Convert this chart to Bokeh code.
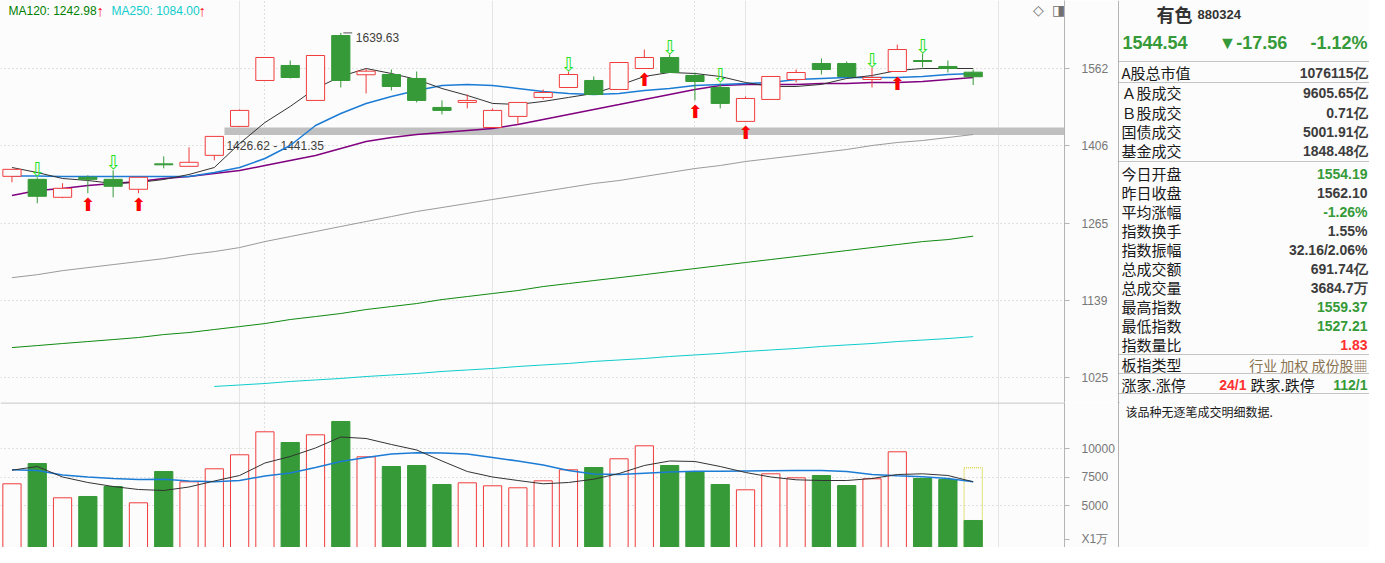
from bokeh.plotting import figure
from bokeh.models import Range1d, FixedTicker, PrintfTickFormatter, Grid, ColumnDataSource, Span
from bokeh.layouts import row, column
from bokeh.embed import file_html
from bokeh.resources import INLINE
from bokeh.core.properties import value

# ---------------- data ----------------
opens  = [1348.6, 1343.1, 1310.6, 1346.8, 1343.1, 1325.0, 1371.7, 1367.1, 1387.7, 1443.5,
          1536.7, 1568.4, 1495.5, 1633.7, 1548.7, 1549.3, 1540.9, 1481.3, 1491.4, 1441.4,
          1463.3, 1501.6, 1522.1, 1536.7, 1518.0, 1562.0, 1585.6, 1547.2, 1522.1, 1453.4,
          1497.5, 1538.8, 1572.7, 1572.7, 1538.8, 1555.6, 1579.1, 1566.3, 1554.19]
highs  = [1362.0, 1346.8, 1335.9, 1350.5, 1359.7, 1346.8, 1385.8, 1402.9, 1424.0, 1477.3,
          1585.6, 1579.1, 1589.9, 1639.63, 1562.0, 1559.9, 1555.6, 1495.5, 1507.7, 1479.3,
          1491.4, 1518.0, 1555.6, 1545.1, 1574.8, 1602.9, 1592.0, 1553.5, 1530.4, 1503.6,
          1545.1, 1559.9, 1583.4, 1576.9, 1564.1, 1613.8, 1594.2, 1579.1, 1559.37]
lows   = [1337.7, 1300.0, 1309.0, 1317.8, 1310.6, 1317.8, 1363.4, 1367.1, 1378.3, 1443.5,
          1536.7, 1541.0, 1495.5, 1522.1, 1509.8, 1515.9, 1491.4, 1467.3, 1479.3, 1441.4,
          1447.5, 1497.5, 1522.1, 1507.7, 1518.0, 1562.0, 1553.5, 1495.5, 1479.3, 1453.4,
          1497.5, 1532.5, 1549.3, 1545.1, 1522.1, 1555.6, 1564.1, 1553.5, 1527.21]
closes = [1361.5, 1312.4, 1326.8, 1343.1, 1330.4, 1346.8, 1369.9, 1374.6, 1424.0, 1475.3,
          1585.6, 1543.0, 1589.9, 1536.7, 1556.3, 1524.2, 1495.5, 1475.3, 1495.5, 1475.3,
          1491.4, 1511.8, 1549.3, 1507.7, 1574.8, 1585.6, 1553.5, 1534.6, 1489.4, 1499.5,
          1545.1, 1553.5, 1559.9, 1545.1, 1543.0, 1602.9, 1576.9, 1562.10, 1544.54]

ma5   = [1364.9, 1355.6, 1344.6, 1341.0, 1335.5, 1337.3, 1342.8, 1352.0, 1364.9, 1410.3,
         1451.2, 1483.3, 1520.0, 1545.1, 1562.0, 1551.4, 1538.8, 1520.0, 1505.7, 1489.4,
         1487.3, 1493.4, 1501.6, 1509.8, 1526.3, 1545.1, 1553.6, 1551.4, 1545.1, 1532.5,
         1524.2, 1524.2, 1528.5, 1540.9, 1547.2, 1557.8, 1562.0, 1562.0, 1562.0]
ma10  = [1349.2, 1349.2, 1348.3, 1348.3, 1348.3, 1348.3, 1348.3, 1348.3, 1355.6, 1364.9,
         1381.7, 1406.5, 1445.3, 1469.2, 1489.4, 1503.6, 1515.9, 1526.3, 1528.4, 1526.3,
         1520.0, 1513.9, 1509.8, 1507.7, 1509.8, 1515.9, 1520.0, 1526.3, 1528.4, 1530.4,
         1532.5, 1538.8, 1540.9, 1543.0, 1543.0, 1543.0, 1545.1, 1549.3, 1551.4]
ma20  = [1313.9, 1322.8, 1326.4, 1331.9, 1335.5, 1339.1, 1344.6, 1348.3, 1353.8, 1359.3,
         1368.6, 1378.0, 1387.4, 1400.7, 1414.1, 1421.9, 1427.7, 1431.6, 1435.5, 1439.4,
         1447.3, 1457.1, 1467.1, 1477.2, 1487.3, 1497.5, 1507.7, 1518.0, 1526.3, 1528.4,
         1528.4, 1528.4, 1530.4, 1530.4, 1532.5, 1532.5, 1534.6, 1538.8, 1543.0]
ma60  = [1174.7, 1179.5, 1186.0, 1190.9, 1195.8, 1200.7, 1205.6, 1212.2, 1217.2, 1223.9,
         1233.9, 1242.4, 1250.9, 1259.5, 1268.1, 1276.7, 1285.5, 1292.5, 1299.6, 1306.7,
         1313.8, 1321.0, 1328.2, 1335.5, 1340.9, 1348.3, 1355.6, 1363.0, 1368.6, 1376.1,
         1381.7, 1387.4, 1393.1, 1398.8, 1406.4, 1412.2, 1416.0, 1421.8, 1427.7]
ma120 = [1068.0, 1070.9, 1073.9, 1076.8, 1079.7, 1082.7, 1087.1, 1090.1, 1094.6, 1099.0,
         1103.5, 1109.6, 1114.1, 1118.7, 1124.8, 1129.4, 1134.0, 1140.2, 1144.9, 1149.6,
         1154.3, 1160.6, 1165.3, 1170.1, 1174.7, 1179.5, 1184.5, 1189.4, 1194.3, 1199.2,
         1204.1, 1209.0, 1213.9, 1218.9, 1223.9, 1228.9, 1233.9, 1237.3, 1242.98]
ma250_start = 9
ma250 = [1012.9, 1014.9, 1017.0, 1019.8, 1021.9, 1024.0, 1026.7, 1028.8, 1030.9, 1033.8,
         1035.9, 1038.0, 1040.8, 1043.0, 1045.1, 1048.0, 1050.1, 1052.2, 1055.1, 1057.3,
         1059.5, 1062.3, 1064.5, 1066.7, 1069.6, 1071.8, 1073.9, 1076.8, 1079.0, 1081.2, 1084.00]

volume = [6904, 8684, 5675, 5790, 6667, 5237, 7983, 7079, 8219, 9448,
          11465, 10526, 11202, 12369, 9272, 8421, 8509, 6842, 6991, 6728,
          6553, 7167, 8132, 8333, 9097, 10237, 8509, 7983, 6842, 6377,
          7781, 7430, 7632, 6754, 7342, 9711, 7368, 7281, 3684.7]
vol_projected = 8307
vol_ma5  = [8097, 8421, 7500, 7018, 6667, 6404, 6316, 6623, 7149, 7632,
            8728, 9298, 10044, 11009, 10877, 10351, 9869, 8904, 7983, 7500,
            7193, 6904, 7018, 7307, 7807, 8509, 8904, 8860, 8421, 7895,
            7500, 7254, 7193, 7193, 7368, 7719, 7781, 7632, 7079]
vol_ma10 = [8140, 8070, 7676, 7500, 7368, 7281, 7307, 7149, 7079, 7193,
            7588, 7851, 8333, 8860, 9211, 9518, 9623, 9605, 9518, 9211,
            8904, 8553, 8070, 7763, 7719, 7833, 7939, 8000, 8009, 8026,
            8053, 8070, 8070, 7983, 7719, 7614, 7518, 7368, 7079]

sell_signals = [2, 5, 23, 27, 29, 35, 37]
buy_signals = [4, 6, 26, 28, 30, 36]
month_marks = [11, 28]
band_low, band_high, band_from = 1426.62, 1441.35, 9
price_ticks = [1025, 1139, 1265, 1406, 1562]
vol_ticks = [5000, 7500, 10000]
vol_unit = "X1万"

legend_texts = ["MA120: 1242.98", "↑", "MA250: 1084.00", "↑"]

head_name, head_code = "有色", "880324"
head_quote = ["1544.54", "▼-17.56", "-1.12%"]
info_labels = ["A股总市值", "Ａ股成交", "Ｂ股成交", "国债成交", "基金成交",
               "今日开盘", "昨日收盘", "平均涨幅", "指数换手", "指数振幅",
               "总成交额", "总成交量", "最高指数", "最低指数", "指数量比", "板指类型"]
info_values = ["1076115亿", "9605.65亿", "0.71亿", "5001.91亿", "1848.48亿",
               "1554.19", "1562.10", "-1.26%", "1.55%", "32.16/2.06%",
               "691.74亿", "3684.7万", "1559.37", "1527.21", "1.83", "行业 加权 成份股▦"]
info_kind = ["n", "n", "n", "n", "n", "g", "n", "g", "n", "n", "n", "n", "g", "g", "r", "b"]
breadth = ["涨家.涨停", "24/1", "跌家.跌停", "112/1"]
note = "该品种无逐笔成交明细数据."

# ---------------- style ----------------
RED = "#f03c3c"
GREEN = "#359a37"
BG = "#fcfcfc"
AX = "#b4b4b4"
LBL = "#777777"
FONT = value("Liberation Sans")
CJK = value("Noto Sans CJK SC")

n = len(opens)
idx = list(range(1, n + 1))
x_lo, x_hi = 0.547, 42.61
y_lo, y_hi = 991.0, 1713.6
v_lo, v_hi = 1316, 14035
unit_pos = 2018

up = [c > o for o, c in zip(opens, closes)]
col = [RED if u else GREEN for u in up]
fill = [BG if u else GREEN for u in up]
src = ColumnDataSource(dict(x=idx, top=[max(o, c) for o, c in zip(opens, closes)],
                            bot=[min(o, c) for o, c in zip(opens, closes)],
                            hi=highs, lo=lows, color=col, fill=fill, vol=volume))


def style_axis(fig):
    ax = fig.yaxis[0]
    ax.axis_line_color = AX
    ax.major_tick_line_color = AX
    ax.major_tick_out = 5
    ax.major_tick_in = 0
    ax.minor_tick_line_color = None
    ax.major_label_text_color = LBL
    ax.major_label_text_font = "Liberation Sans"
    ax.major_label_text_font_size = "12px"
    ax.major_label_standoff = 12
    ax.formatter = PrintfTickFormatter(format="%d")


# ---------------- main price chart ----------------
p = figure(width=1117, height=402, x_range=Range1d(x_lo, x_hi), y_range=Range1d(y_lo, y_hi),
           y_axis_type="log", x_axis_location=None, y_axis_location="right",
           toolbar_location=None, output_backend="svg",
           min_border_left=0, min_border_top=0, min_border_bottom=0, min_border_right=49,
           background_fill_color=BG, border_fill_color=BG, outline_line_color=None)
style_axis(p)
pt = FixedTicker(ticks=price_ticks)
p.yaxis[0].ticker = pt
p.ygrid.ticker = pt
p.ygrid.grid_line_color = "#c4c4c4"
p.ygrid.grid_line_dash = "1 3"
p.add_layout(Grid(dimension=0, ticker=FixedTicker(ticks=month_marks),
                  grid_line_color="#c4c4c4", grid_line_dash="1 3"))

p.quad(left=[band_from + 0.4], right=[x_hi], bottom=[band_low], top=[band_high],
       fill_color="#c0c0c0", line_color=None)
p.text(x=[band_from + 0.4], y=[band_low], text=[f"{band_low:.2f} - {band_high:.2f}"],
       text_font=FONT, text_font_size="12px", text_color="#404040",
       text_baseline="top", x_offset=2, y_offset=4)

p.line(idx, ma60, line_color="#9a9a9a", line_width=1)
p.line(idx, ma120, line_color="#108a10", line_width=1)
p.line(idx[ma250_start - 1:], ma250, line_color="#10cccc", line_width=1)
p.line(idx, ma20, line_color="#800080", line_width=1.5)
p.line(idx, ma10, line_color="#1c7cd5", line_width=1.5)
p.line(idx, ma5, line_color="#333333", line_width=1)

p.segment(x0='x', y0='hi', x1='x', y1='top', line_color='color', source=src)
p.segment(x0='x', y0='bot', x1='x', y1='lo', line_color='color', source=src)
p.vbar(x='x', width=0.72, top='top', bottom='bot', fill_color='fill', line_color='color', source=src)

# signal arrows
p.text(x=sell_signals, y=[highs[i - 1] for i in sell_signals], text=["⇩"] * len(sell_signals),
       text_font=value("DejaVu Sans"), text_font_size="19px", text_color="#22e022",
       text_align="center", text_baseline="bottom", y_offset=3)
p.text(x=buy_signals, y=[lows[i - 1] for i in buy_signals], text=["⬆"] * len(buy_signals),
       text_font=value("DejaVu Sans"), text_font_size="18px", text_color="#ff0000",
       text_align="center", text_baseline="top", y_offset=1)

# highest point marker
imax = highs.index(max(highs))
p.segment(x0=[imax + 1 + 0.1], y0=[highs[imax]], x1=[imax + 1 + 0.45], y1=[highs[imax]],
          line_color="#555555")
p.text(x=[imax + 1], y=[highs[imax]], text=[f"{highs[imax]:.2f}"], text_font=FONT,
       text_font_size="12px", text_color="#404040", text_baseline="middle",
       x_offset=15, y_offset=5)

# legend
lsrc = ColumnDataSource(dict(x=[x_lo] * 4, y=[y_hi] * 4, t=legend_texts,
                             c=["#008000", "#ff2020", "#10cccc", "#ff2020"],
                             xo=[8, 96, 111, 198], fs=["12px", "15px", "12px", "15px"]))
p.text(x='x', y='y', text='t', text_color='c', x_offset='xo', y_offset=10, source=lsrc,
       text_font=FONT, text_font_size='fs', text_baseline="middle")
p.text(x=[x_hi, x_hi], y=[y_hi, y_hi], text=["◇", "◨"], x_offset=[-26, -6], y_offset=9,
       text_font=value("DejaVu Sans"), text_font_size="14px", text_color="#707070",
       text_baseline="middle", text_align="center")

# ---------------- volume chart ----------------
v = figure(width=1117, height=145, x_range=p.x_range, y_range=Range1d(v_lo, v_hi),
           x_axis_location=None, y_axis_location="right",
           toolbar_location=None, output_backend="svg",
           min_border_left=0, min_border_top=0, min_border_bottom=0, min_border_right=49,
           background_fill_color=BG, border_fill_color=BG, outline_line_color=None)
style_axis(v)
v.yaxis[0].ticker = FixedTicker(ticks=[unit_pos] + vol_ticks)
v.yaxis[0].major_label_overrides = {unit_pos: vol_unit}
v.ygrid.ticker = FixedTicker(ticks=vol_ticks)
v.ygrid.grid_line_color = "#c4c4c4"
v.ygrid.grid_line_dash = "1 3"
v.add_layout(Grid(dimension=0, ticker=FixedTicker(ticks=month_marks),
                  grid_line_color="#c4c4c4", grid_line_dash="1 3"))
v.add_layout(Span(location=v_hi - 40, dimension="width", line_color=AX, line_width=1))

v.vbar(x=[n], width=0.72, top=[vol_projected], bottom=0, fill_color=None,
       line_color="#c8c800", line_dash="1 1")
v.vbar(x='x', width=0.72, top='vol', bottom=0, fill_color='fill', line_color='color', source=src)
v.line(idx, vol_ma10, line_color="#1c7cd5", line_width=1.5)
v.line(idx, vol_ma5, line_color="#333333", line_width=1)

# ---------------- info panel ----------------
q = figure(width=252, height=547, x_range=Range1d(1117, 1369), y_range=Range1d(547, 0),
           toolbar_location=None, output_backend="svg", min_border=0,
           background_fill_color=BG, border_fill_color=BG, outline_line_color=None)
q.axis.visible = False
q.grid.visible = False
XR = 1367

sep_y = [61, 82, 161, 354, 373, 393]
q.segment(x0=[1117] * len(sep_y), x1=[1369] * len(sep_y), y0=sep_y, y1=sep_y, line_color="#c4c4c4")
q.segment(x0=[1118], x1=[1118], y0=[0], y1=[547], line_color="#b4b4b4")
q.segment(x0=[1117], x1=[1119], y0=[402], y1=[402], line_color="#b4b4b4")

q.text(x=[1156], y=[13], text=[head_name], text_font=CJK, text_font_size="18px",
       text_color="#333333", text_font_style="bold", text_baseline="middle")
q.text(x=[1197], y=[14], text=[head_code], text_font=FONT, text_font_size="13px",
       text_color="#333333", text_font_style="bold", text_baseline="middle")
q.text(x=[1122, 1218, XR], y=[42, 42, 42], text=head_quote, text_font=FONT,
       text_font_size="18px", text_color=GREEN, text_font_style="bold",
       text_baseline="middle", text_align=["left", "left", "right"])

row_y = [72, 92, 112, 131, 150, 173, 192, 211, 230, 249, 268, 287, 306, 325, 344, 364]
kind_color = {"n": "#3c3c3c", "g": GREEN, "r": "#ff3030", "b": "#8a7350"}
q.text(x=[1121] * len(info_labels), y=row_y, text=info_labels, text_font=CJK,
       text_font_size="15px", text_color="#1a1a1a", text_baseline="middle")
vals_num = [i for i, k in enumerate(info_kind) if k != "b"]
q.text(x=[XR] * len(vals_num), y=[row_y[i] for i in vals_num],
       text=[info_values[i] for i in vals_num],
       text_color=[kind_color[info_kind[i]] for i in vals_num],
       text_font=FONT, text_font_size="14px", text_font_style="bold",
       text_align="right", text_baseline="middle")
vals_b = [i for i, k in enumerate(info_kind) if k == "b"]
q.text(x=[XR] * len(vals_b), y=[row_y[i] for i in vals_b], text=[info_values[i] for i in vals_b],
       text_color=kind_color["b"], text_font=CJK, text_font_size="14px",
       text_align="right", text_baseline="middle")

q.text(x=[1121, 1250], y=[384, 384], text=[breadth[0], breadth[2]], text_font=CJK,
       text_font_size="15px", text_color="#1a1a1a", text_baseline="middle")
q.text(x=[1246, XR], y=[384, 384], text=[breadth[1], breadth[3]], text_font=FONT,
       text_font_size="14px", text_font_style="bold", text_color=["#ff3030", GREEN],
       text_align="right", text_baseline="middle")
q.text(x=[1125], y=[411], text=[note], text_font=CJK, text_font_size="12px",
       text_color="#1a1a1a", text_baseline="middle")

layout = row(column(p, v, spacing=0), q, spacing=0)
open("out.html", "w").write(file_html(layout, INLINE))
